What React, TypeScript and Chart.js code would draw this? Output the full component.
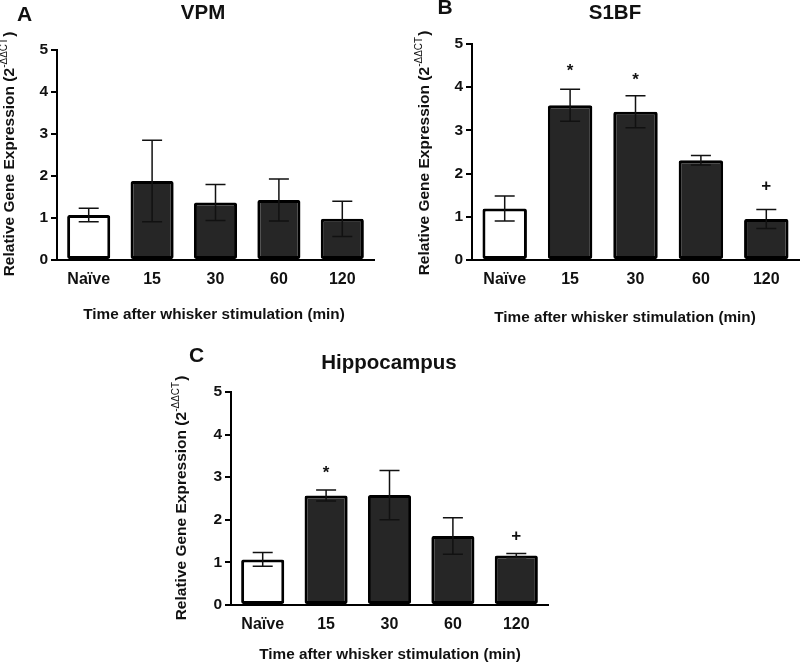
import React, { useEffect, useRef } from "react";
import { Chart, registerables } from "chart.js";
Chart.register(...registerables);

const FF = '"Liberation Sans", Arial, Helvetica, sans-serif';

const categories = ["Naïve", "15", "30", "60", "120"];
const yMin = 0;
const yMax = 5;
const yStep = 1;

const vpmMeans = [1.07, 1.88, 1.37, 1.43, 0.98];
const vpmErrors = [0.16, 0.97, 0.43, 0.5, 0.42];
const vpmMarks = ["", "", "", "", ""];
const vpmMarkLevels = [0, 0, 0, 0, 0];

const s1bfMeans = [1.19, 3.58, 3.43, 2.31, 0.95];
const s1bfErrors = [0.29, 0.37, 0.37, 0.11, 0.22];
const s1bfMarks = ["", "*", "*", "", "+"];
const s1bfMarkLevels = [0, 4.49, 4.27, 0, 1.74];

const hippoMeans = [1.07, 2.57, 2.58, 1.62, 1.16];
const hippoErrors = [0.16, 0.13, 0.58, 0.43, 0.05];
const hippoMarks = ["", "*", "", "", "+"];
const hippoMarkLevels = [0, 3.21, 0, 0, 1.64];

const xTitle = "Time after whisker stimulation (min)";
const yTitleMain = "Relative Gene Expression (2";
const yTitleSup = "-\u0394\u0394CT";
const yTitleEnd = ")";

type PanelProps = {
  left: number; top: number; width: number; height: number;
  area: { l: number; r: number; t: number; b: number };
  title: string; titlePos: [number, number];
  letter: string; letterPos: [number, number];
  xTitlePos: [number, number];
  yTitlePos: [number, number];
  means: number[]; errors: number[]; marks: string[]; markLevels: number[];
};

const Y_W = 30;
const X_H = 40;

function Panel(p: PanelProps) {
  const ref = useRef<HTMLCanvasElement | null>(null);
  useEffect(() => {
    const canvas = ref.current!;
    const extras = {
      id: "extras",
      afterDatasetsDraw(chart: any) {
        const ctx = chart.ctx;
        const ys = chart.scales.y;
        const meta = chart.getDatasetMeta(0);
        ctx.save();
        ctx.strokeStyle = "#111";
        ctx.lineWidth = 1.5;
        meta.data.forEach((bar: any, i: number) => {
          const x = bar.x;
          const yt = ys.getPixelForValue(p.means[i] + p.errors[i]);
          const yb = ys.getPixelForValue(p.means[i] - p.errors[i]);
          ctx.beginPath();
          ctx.moveTo(x, yt); ctx.lineTo(x, yb);
          ctx.moveTo(x - 10, yt); ctx.lineTo(x + 10, yt);
          ctx.moveTo(x - 10, yb); ctx.lineTo(x + 10, yb);
          ctx.stroke();
          const m = p.marks[i];
          if (m) {
            ctx.fillStyle = "#111";
            ctx.textAlign = "center";
            ctx.textBaseline = "alphabetic";
            ctx.font = `bold 17px ${FF}`;
            const off = m === "*" ? 9.5 : 6;
            ctx.fillText(m, x, ys.getPixelForValue(p.markLevels[i]) + off);
          }
        });
        ctx.restore();
      },
      afterDraw(chart: any) {
        const ctx = chart.ctx;
        ctx.save();
        ctx.fillStyle = "#111";
        ctx.textAlign = "center";
        ctx.textBaseline = "middle";
        ctx.font = `bold 20.5px ${FF}`;
        ctx.fillText(p.title, p.titlePos[0], p.titlePos[1]);
        ctx.font = `bold 21px ${FF}`;
        ctx.fillText(p.letter, p.letterPos[0], p.letterPos[1]);
        ctx.font = `bold 15.3px ${FF}`;
        ctx.fillText(xTitle, p.xTitlePos[0], p.xTitlePos[1]);
        // y title with superscript
        ctx.translate(p.yTitlePos[0], p.yTitlePos[1]);
        ctx.rotate(-Math.PI / 2);
        const fMain = `bold 15.5px ${FF}`;
        const fSup = `10px ${FF}`;
        ctx.font = fMain;
        const w1 = ctx.measureText(yTitleMain).width;
        const w3 = ctx.measureText(yTitleEnd).width;
        ctx.font = fSup;
        const w2 = ctx.measureText(yTitleSup).width;
        let x = -(w1 + w2 + w3 + 1) / 2;
        ctx.textAlign = "left";
        ctx.font = fMain;
        ctx.fillText(yTitleMain, x, 0);
        x += w1;
        ctx.font = fSup;
        ctx.fillText(yTitleSup, x, -5.5);
        x += w2 + 1;
        ctx.font = fMain;
        ctx.fillText(yTitleEnd, x, 0);
        ctx.restore();
      },
    };
    const chart = new Chart(canvas, {
      type: "bar",
      data: {
        labels: categories,
        datasets: [
          {
            data: p.means,
            backgroundColor: categories.map((_, i) => (i === 0 ? "#ffffff" : "#262626")),
            borderColor: "#000",
            borderWidth: 3,
            borderRadius: 2,
            borderSkipped: false,
            barPercentage: 0.68,
            categoryPercentage: 1,
          },
        ],
      },
      options: {
        animation: false,
        responsive: false,
        maintainAspectRatio: false,
        layout: {
          padding: {
            left: p.area.l - Y_W,
            right: p.width - p.area.r,
            top: p.area.t,
            bottom: p.height - p.area.b - X_H,
          },
        },
        plugins: { legend: { display: false }, tooltip: { enabled: false }, title: { display: false } },
        scales: {
          x: {
            offset: true,
            grid: { display: true, drawOnChartArea: false, drawTicks: false },
            border: { display: true, color: "#000", width: 2 },
            ticks: { color: "#111", font: { family: FF, size: 16, weight: "bold" }, padding: 10 },
            afterFit: (s: any) => { s.height = X_H; },
          },
          y: {
            min: yMin,
            max: yMax,
            grid: { display: true, drawOnChartArea: false, drawTicks: true, tickLength: 6, color: "#000", lineWidth: 2 },
            border: { display: true, color: "#000", width: 2 },
            ticks: { stepSize: yStep, color: "#111", font: { family: FF, size: 15.5, weight: "bold" }, padding: 3 },
            afterFit: (s: any) => { s.width = Y_W; },
          },
        },
      },
      plugins: [extras],
    } as any);
    return () => chart.destroy();
  }, []);
  return (
    <canvas
      ref={ref}
      width={p.width}
      height={p.height}
      style={{ position: "absolute", left: p.left, top: p.top, width: p.width, height: p.height }}
    />
  );
}

export default function App() {
  return (
    <div style={{ position: "absolute", left: 0, top: 0, width: 800, height: 665, background: "#fff", overflow: "hidden" }}>
      <Panel
        left={0} top={0} width={400} height={330}
        area={{ l: 57, r: 374, t: 50, b: 260 }}
        title="VPM" titlePos={[203, 13]}
        letter="A" letterPos={[24.5, 15]}
        xTitlePos={[214, 315]} yTitlePos={[10, 154]}
        means={vpmMeans} errors={vpmErrors} marks={vpmMarks} markLevels={vpmMarkLevels}
      />
      <Panel
        left={400} top={0} width={400} height={330}
        area={{ l: 72, r: 399, t: 44, b: 260 }}
        title="S1BF" titlePos={[215, 13]}
        letter="B" letterPos={[45, 8]}
        xTitlePos={[225, 318]} yTitlePos={[25, 153]}
        means={s1bfMeans} errors={s1bfErrors} marks={s1bfMarks} markLevels={s1bfMarkLevels}
      />
      <Panel
        left={160} top={330} width={440} height={335}
        area={{ l: 71, r: 388, t: 62, b: 275 }}
        title="Hippocampus" titlePos={[229, 33]}
        letter="C" letterPos={[36.5, 26.5]}
        xTitlePos={[230, 325]} yTitlePos={[22, 168]}
        means={hippoMeans} errors={hippoErrors} marks={hippoMarks} markLevels={hippoMarkLevels}
      />
    </div>
  );
}
